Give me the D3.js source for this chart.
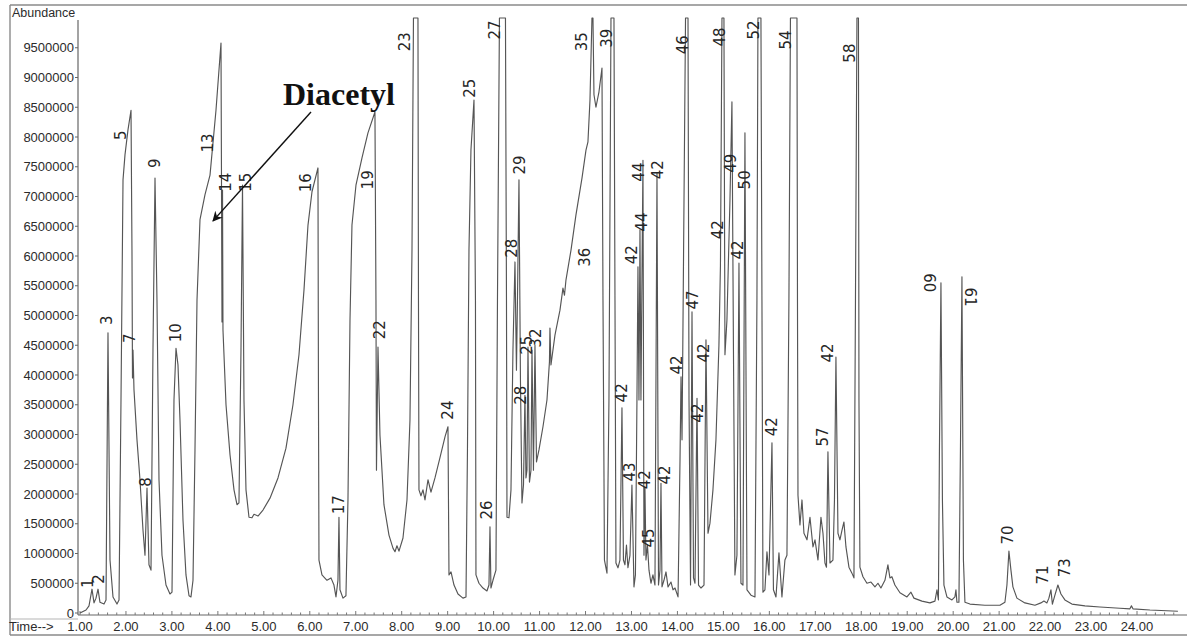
<!DOCTYPE html>
<html>
<head>
<meta charset="utf-8">
<script src="https://cdn.jsdelivr.net/npm/d3@7"></script>
<style>
  body { margin: 0; background: #fff; }
  svg { display: block; }
</style>
</head>
<body>
<svg id="chart" width="1187" height="637"></svg>
<script>
// Total ion chromatogram: [retention time (min), abundance]
const trace = [
  [1.000,0],[1.131,50000],[1.196,120000],[1.261,400000],[1.305,170000],[1.348,250000],[1.392,400000],[1.435,180000],[1.522,150000],[1.566,220000],
  [1.609,4710000],[1.653,890000],[1.718,270000],[1.805,150000],[1.849,220000],[1.892,3580000],[1.936,7280000],[1.979,7700000],[2.044,8120000],[2.110,8450000],
  [2.131,6100000],[2.142,3950000],[2.153,4420000],[2.175,3750000],[2.240,2910000],[2.305,2240000],[2.371,1390000],[2.414,970000],[2.458,2100000],[2.501,810000],
  [2.545,720000],[2.588,4420000],[2.632,7310000],[2.675,5260000],[2.719,2240000],[2.784,970000],[2.871,470000],[2.958,320000],[3.002,350000],[3.045,3580000],
  [3.089,4450000],[3.132,4170000],[3.176,3240000],[3.241,1560000],[3.306,640000],[3.372,290000],[3.415,270000],[3.459,550000],[3.502,2740000],[3.546,5260000],
  [3.611,6610000],[3.720,7030000],[3.829,7360000],[3.959,8450000],[4.068,9580000],[4.090,4890000],[4.101,7110000],[4.111,4760000],[4.177,3500000],[4.264,2660000],
  [4.351,2070000],[4.416,1820000],[4.459,1850000],[4.503,4420000],[4.536,7190000],[4.568,3580000],[4.612,2070000],[4.677,1610000],[4.742,1600000],[4.786,1660000],
  [4.873,1630000],[4.982,1730000],[5.134,1930000],[5.308,2270000],[5.482,2770000],[5.634,3500000],[5.765,4340000],[5.874,5430000],[5.961,6520000],[6.048,7080000],
  [6.178,7480000],[6.189,3580000],[6.200,890000],[6.265,640000],[6.374,550000],[6.461,590000],[6.526,470000],[6.570,270000],[6.613,550000],[6.635,1610000],
  [6.657,390000],[6.722,250000],[6.787,290000],[6.831,1900000],[6.875,4920000],[6.918,6520000],[7.005,7190000],[7.136,7650000],[7.266,8070000],[7.418,8420000],
  [7.440,5260000],[7.451,2400000],[7.484,4470000],[7.527,2990000],[7.614,1820000],[7.723,1310000],[7.810,1090000],[7.854,1030000],[7.897,1130000],[7.941,1040000],
  [8.028,1260000],[8.115,1900000],[8.180,3240000],[8.224,6100000],[8.256,10000000],[8.354,10000000],[8.365,5260000],[8.376,2070000],[8.419,1970000],[8.463,2070000],
  [8.507,1900000],[8.572,2240000],[8.637,2030000],[8.724,2270000],[8.833,2610000],[8.942,2960000],[9.007,3130000],[9.029,640000],[9.073,690000],[9.138,470000],
  [9.225,320000],[9.333,250000],[9.399,270000],[9.431,2740000],[9.464,6100000],[9.507,7780000],[9.573,8620000],[9.605,5260000],[9.616,640000],[9.681,500000],
  [9.768,420000],[9.855,370000],[9.899,470000],[9.921,1450000],[9.942,420000],[9.986,550000],[10.051,720000],[10.084,5260000],[10.127,10000000],[10.258,10000000],
  [10.280,5260000],[10.291,1610000],[10.334,1600000],[10.378,2070000],[10.421,4420000],[10.465,5900000],[10.497,4080000],[10.519,5260000],[10.552,7280000],[10.584,3920000],
  [10.617,1850000],[10.650,2150000],[10.682,3660000],[10.704,2270000],[10.726,2400000],[10.748,4470000],[10.780,2200000],[10.813,2400000],[10.835,4420000],[10.867,2400000],
  [10.900,4500000],[10.933,2540000],[10.987,2740000],[11.074,3130000],[11.161,3580000],[11.215,4220000],[11.226,4790000],[11.248,4170000],[11.335,4670000],[11.444,5090000],
  [11.509,5460000],[11.542,5340000],[11.575,5600000],[11.684,6100000],[11.792,6690000],[11.923,7310000],[12.010,7780000],[12.053,7920000],[12.097,8620000],[12.140,10000000],
  [12.162,10000000],[12.184,8710000],[12.227,8500000],[12.293,8760000],[12.358,9160000],[12.380,5260000],[12.412,890000],[12.467,670000],[12.510,3580000],[12.554,10000000],
  [12.619,10000000],[12.641,5260000],[12.662,840000],[12.706,760000],[12.749,890000],[12.793,3450000],[12.825,890000],[12.858,810000],[12.891,1140000],[12.923,760000],
  [12.967,970000],[13.010,2150000],[13.054,440000],[13.086,640000],[13.119,3580000],[13.141,5820000],[13.163,3580000],[13.185,6440000],[13.206,3580000],[13.250,7610000],
  [13.272,970000],[13.293,2120000],[13.315,890000],[13.348,1140000],[13.381,720000],[13.424,500000],[13.467,640000],[13.511,470000],[13.555,7390000],[13.588,470000],
  [13.620,720000],[13.642,2180000],[13.664,440000],[13.707,550000],[13.751,690000],[13.795,440000],[13.860,520000],[13.904,390000],[13.947,420000],[14.013,270000],
  [14.056,2570000],[14.078,3970000],[14.100,2910000],[14.143,6940000],[14.176,10000000],[14.230,10000000],[14.252,3580000],[14.285,470000],[14.317,5060000],[14.350,590000],
  [14.382,500000],[14.426,3610000],[14.459,470000],[14.513,420000],[14.578,470000],[14.621,4590000],[14.665,1340000],[14.708,1510000],[14.773,2070000],[14.838,2910000],
  [14.903,4500000],[14.936,5850000],[14.969,10000000],[15.012,10000000],[15.034,4340000],[15.077,4920000],[15.143,6940000],[15.186,8590000],[15.219,4420000],[15.251,640000],
  [15.295,970000],[15.339,5880000],[15.382,500000],[15.426,470000],[15.469,8070000],[15.513,390000],[15.600,300000],[15.687,270000],[15.730,5260000],[15.752,10000000],
  [15.817,10000000],[15.839,5260000],[15.861,350000],[15.904,390000],[15.948,1030000],[15.992,640000],[16.057,2860000],[16.089,390000],[16.144,270000],[16.209,1010000],
  [16.274,270000],[16.339,890000],[16.383,970000],[16.426,5260000],[16.459,10000000],[16.601,10000000],[16.612,5260000],[16.623,1980000],[16.666,1480000],[16.710,1900000],
  [16.753,1340000],[16.819,1230000],[16.884,1610000],[16.949,1110000],[16.993,1230000],[17.058,890000],[17.123,1610000],[17.167,1340000],[17.210,840000],[17.243,770000],
  [17.275,2710000],[17.319,840000],[17.384,890000],[17.417,1900000],[17.449,4300000],[17.493,1340000],[17.536,1230000],[17.580,1390000],[17.623,1530000],[17.667,1110000],
  [17.732,770000],[17.797,670000],[17.841,590000],[17.874,5260000],[17.906,10000000],[17.939,10000000],[17.950,3580000],[17.971,770000],[18.037,610000],[18.124,500000],
  [18.211,520000],[18.298,440000],[18.363,500000],[18.428,420000],[18.515,550000],[18.580,810000],[18.624,590000],[18.667,610000],[18.732,470000],[18.842,340000],
  [18.994,270000],[19.081,350000],[19.146,250000],[19.320,200000],[19.494,170000],[19.603,200000],[19.647,390000],[19.679,220000],[19.701,2740000],[19.734,5550000],
  [19.766,1900000],[19.799,470000],[19.864,270000],[19.973,220000],[20.038,270000],[20.060,390000],[20.082,180000],[20.125,180000],[20.158,2740000],[20.191,5650000],
  [20.223,890000],[20.256,180000],[20.365,150000],[20.691,130000],[21.017,130000],[21.126,180000],[21.170,470000],[21.213,1040000],[21.257,720000],[21.300,440000],
  [21.387,250000],[21.561,170000],[21.779,130000],[21.909,170000],[21.975,200000],[22.040,170000],[22.083,250000],[22.127,390000],[22.159,150000],[22.214,300000],
  [22.279,470000],[22.345,320000],[22.431,220000],[22.584,150000],[22.867,120000],[23.193,100000],[23.628,80000],[23.846,70000],[23.879,120000],[23.912,70000],
  [24.281,50000],[24.890,30000]
];

// Hand-written peak numbers: text, retention time and abundance where each is written
const peakNames = ["1","2","3","5","7","8","9","10","13","14","15","16","17","19","22","23","24","25","26","27",
  "28","29","28","25","32","35","36","39","42","43","42","44","44","42","45","42","42","42","46","47",
  "42","42","42","48","49","42","50","52","54","42","57","42","58","60","61","70","71","73"];
const peakNameTimes = [1.174,1.413,1.587,1.892,2.088,2.436,2.632,3.089,3.785,4.177,4.612,5.917,6.635,7.266,7.527,8.071,9.007,9.486,9.855,10.029,
  10.399,10.574,10.595,10.726,10.922,11.923,11.988,12.467,12.793,12.967,13.010,13.163,13.228,13.293,13.381,13.577,13.729,13.990,14.121,14.338,
  14.447,14.578,14.882,14.925,15.164,15.317,15.469,15.665,16.361,16.057,17.166,17.275,17.754,19.473,20.365,21.191,21.953,22.431];
const peakNameLevels = [500000,570000,4920000,8030000,4620000,2200000,7560000,4710000,7900000,7240000,7240000,7230000,1820000,7280000,4760000,9600000,3410000,8820000,1730000,9800000,
  6130000,7530000,3660000,4500000,4620000,9600000,5980000,9660000,3700000,2370000,6020000,7410000,6570000,2240000,1260000,7450000,2320000,4170000,9550000,5260000,
  3360000,4370000,6440000,9680000,7560000,6100000,7280000,9800000,9630000,3130000,2960000,4370000,9410000,5550000,5310000,1310000,640000,760000];
const flippedNames = ["60","61"];

// Axis ticks
const yTickValues = [0,500000,1000000,1500000,2000000,2500000,3000000,3500000,4000000,4500000,
  5000000,5500000,6000000,6500000,7000000,7500000,8000000,8500000,9000000,9500000];
const xTickValues = [1,2,3,4,5,6,7,8,9,10,11,12,13,14,15,16,17,18,19,20,21,22,23,24];

// Diacetyl callout: label anchor, arrow tail and arrow head (time, abundance)
const calloutText = "Diacetyl";
const calloutLabel = [5.417, 8540000];
const calloutTail = [6.026, 8420000];
const calloutHead = [3.894, 6590000];

const svg = d3.select("#chart");
const x = d3.scaleLinear().domain([1, 24]).range([80, 1137]);
const y = d3.scaleLinear().domain([0, 10000000]).range([613, 18]);

const frameColor = "#8a8a8a";
const inkColor = "#2b2b2b";

// Frame
svg.append("line").attr("x1", 10).attr("x2", 1187).attr("y1", 5).attr("y2", 5)
  .attr("stroke", frameColor).attr("stroke-width", 1.6);
svg.append("line").attr("x1", 10).attr("x2", 10).attr("y1", 5).attr("y2", 635)
  .attr("stroke", frameColor).attr("stroke-width", 1.4);
svg.append("line").attr("x1", 10).attr("x2", 1187).attr("y1", 635).attr("y2", 635)
  .attr("stroke", frameColor).attr("stroke-width", 1.4);
svg.append("line").attr("x1", 10).attr("x2", 78).attr("y1", 619).attr("y2", 619)
  .attr("stroke", "#b5b5b5").attr("stroke-width", 1);

// Y axis
const yAxisX = 78;
svg.append("line").attr("x1", yAxisX).attr("x2", yAxisX).attr("y1", 20).attr("y2", y(0) + 2)
  .attr("stroke", "#666").attr("stroke-width", 1.2);
svg.append("text").attr("x", 12).attr("y", 17)
  .attr("font-family", "Liberation Sans, Arial, sans-serif").attr("font-size", 12.5)
  .attr("fill", inkColor).text("Abundance");

const yt = svg.append("g");
yt.selectAll("line").data(yTickValues).join("line")
  .attr("x1", yAxisX - 3).attr("x2", yAxisX).attr("y1", d => y(d)).attr("y2", d => y(d))
  .attr("stroke", "#666").attr("stroke-width", 1);
yt.selectAll("text").data(yTickValues).join("text")
  .attr("x", yAxisX - 4).attr("y", d => y(d)).attr("dy", "0.36em")
  .attr("text-anchor", "end")
  .attr("font-family", "Liberation Sans, Arial, sans-serif").attr("font-size", 13)
  .attr("fill", inkColor).text(d => d3.format("d")(d));

// X axis
const xAxisY = 615;
svg.append("line").attr("x1", yAxisX).attr("x2", 1187).attr("y1", xAxisY).attr("y2", xAxisY)
  .attr("stroke", "#666").attr("stroke-width", 1.2);
const minorTicks = d3.range(0, 120).map(i => 1 + i * 0.2);
svg.append("g").selectAll("line").data(minorTicks).join("line")
  .attr("x1", d => x(d)).attr("x2", d => x(d))
  .attr("y1", xAxisY).attr("y2", (d, i) => xAxisY - (i % 5 === 0 ? 4 : 2.5))
  .attr("stroke", "#777").attr("stroke-width", 1);
svg.append("g").selectAll("text").data(xTickValues).join("text")
  .attr("x", d => x(d)).attr("y", 631)
  .attr("text-anchor", "middle")
  .attr("font-family", "Liberation Sans, Arial, sans-serif").attr("font-size", 13)
  .attr("fill", inkColor).text(d => d3.format(".2f")(d));
svg.append("text").attr("x", 9).attr("y", 631)
  .attr("font-family", "Liberation Sans, Arial, sans-serif").attr("font-size", 13)
  .attr("fill", inkColor).text("Time-->");

// Chromatogram trace
const line = d3.line().x(d => x(d[0])).y(d => y(d[1]));
svg.append("path").datum(trace)
  .attr("d", line)
  .attr("fill", "none").attr("stroke", "#555").attr("stroke-width", 1.15)
  .attr("stroke-linejoin", "round");

// Peak numbers
const names = peakNames.map((n, i) => ({ n, t: peakNameTimes[i], a: peakNameLevels[i] }));
svg.append("g").selectAll("text").data(names).join("text")
  .attr("transform", d => `translate(${x(d.t)},${y(d.a)}) rotate(${flippedNames.includes(d.n) ? 90 : -90})`)
  .attr("text-anchor", "middle").attr("dy", "0.35em")
  .attr("font-family", "DejaVu Sans, sans-serif").attr("font-size", 15)
  .attr("fill", "#262626").text(d => d.n);

// Diacetyl callout
const defs = svg.append("defs");
defs.append("marker").attr("id", "head").attr("viewBox", "0 0 10 10")
  .attr("refX", 9).attr("refY", 5).attr("markerWidth", 14).attr("markerHeight", 10)
  .attr("markerUnits", "userSpaceOnUse").attr("orient", "auto")
  .append("path").attr("d", "M0,0 L10,5 L0,10 L3,5 Z").attr("fill", "#111");
svg.append("line")
  .attr("x1", x(calloutTail[0])).attr("y1", y(calloutTail[1]))
  .attr("x2", x(calloutHead[0])).attr("y2", y(calloutHead[1]))
  .attr("stroke", "#111").attr("stroke-width", 1.4).attr("marker-end", "url(#head)");
svg.append("text").attr("x", x(calloutLabel[0])).attr("y", y(calloutLabel[1]))
  .attr("font-family", "Liberation Serif, Times New Roman, serif").attr("font-weight", "bold")
  .attr("font-size", 32).attr("fill", "#111").text(calloutText);
</script>
</body>
</html>
